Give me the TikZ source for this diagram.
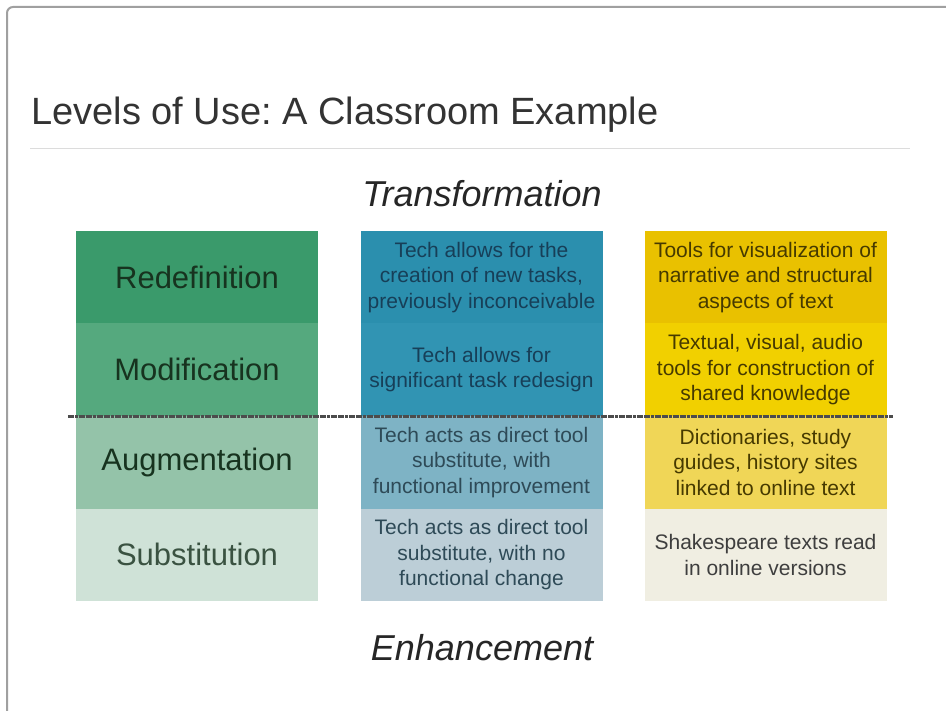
\documentclass[tikz,border=0pt]{standalone}
\usepackage{fontspec}
\setmainfont{Liberation Sans}
\frenchspacing
\begin{document}
\begin{tikzpicture}[x=1pt,y=-1pt,
  cell/.style={inner sep=0pt, minimum width=242pt, minimum height=92.5pt, align=center},
  label/.style={cell, font=\fontsize{31}{34}\selectfont},
  body/.style={cell, font=\fontsize{21}{25.5}\selectfont},
  heading/.style={inner sep=0pt, font=\fontsize{36}{40}\selectfont\itshape, text=black!85},
  dotline/.style={line width=2.8pt, dash pattern=on 3pt off 0.6pt, black!70}]
% page frame
\definecolor{frame}{HTML}{A0A0A0}
\definecolor{rule}{HTML}{DCDCDC}
% column colours, top row to bottom row
\definecolor{gA}{HTML}{3A9A6B}\definecolor{gB}{HTML}{55A97E}
\definecolor{gC}{HTML}{94C3A9}\definecolor{gD}{HTML}{CFE2D7}
\definecolor{bA}{HTML}{2B8FAE}\definecolor{bB}{HTML}{3194B3}
\definecolor{bC}{HTML}{7EB3C5}\definecolor{bD}{HTML}{BCCED7}
\definecolor{yA}{HTML}{E9C100}\definecolor{yB}{HTML}{F1D000}
\definecolor{yC}{HTML}{F0D657}\definecolor{yD}{HTML}{F0EEE2}
\definecolor{gtext}{HTML}{17331F}
\definecolor{btext}{HTML}{173F58}
\definecolor{btextlow}{HTML}{2E4A57}
\definecolor{ytext}{HTML}{463A00}
\definecolor{stext}{HTML}{3E3E3E}

\useasboundingbox (0,0) rectangle (946,711);
\fill[white] (0,0) rectangle (946,711);
\begin{scope}
\clip (0,0) rectangle (946,711);
\draw[frame, line width=2pt, rounded corners=6pt] (7,730) -- (7,7) -- (960,7);
\end{scope}

% title and rule
\node[anchor=base west, inner sep=0pt, font=\fontsize{38}{40}\selectfont, text=black!80]
  (title) at (31,125) {Levels of Use: A Classroom Example};
\coordinate (ruleL) at (30,149);
\coordinate (ruleR) at (910,149);
\draw[rule, line width=1pt] (ruleL) -- (ruleR);

\node[heading] (top) at (482,194) {Transformation};

% SAMR levels
\node[label, fill=gA, text=gtext] (g1) at (197,277.25) {Redefinition};
\node[label, fill=gB, text=gtext] (g2) at (197,369.75) {Modification};
\node[label, fill=gC, text=gtext] (g3) at (197,462.25) {Augmentation};
\node[label, fill=gD, text=gtext!85!white] (g4) at (197,554.75) {Substitution};

% what the technology does
\node[body, fill=bA, text=btext] (b1) at (481.5,277.25)
  {Tech allows for the\\creation of new tasks,\\previously inconceivable};
\node[body, fill=bB, text=btext] (b2) at (481.5,369.75)
  {Tech allows for\\significant task redesign};
\node[body, fill=bC, text=btextlow] (b3) at (481.5,462.25)
  {Tech acts as direct tool\\substitute, with\\functional improvement};
\node[body, fill=bD, text=btextlow] (b4) at (481.5,554.75)
  {Tech acts as direct tool\\substitute, with no\\functional change};

% classroom example
\node[body, fill=yA, text=ytext] (y1) at (765.5,277.25)
  {Tools for visualization of\\narrative and structural\\aspects of text};
\node[body, fill=yB, text=ytext] (y2) at (765.5,369.75)
  {Textual, visual, audio\\tools for construction of\\shared knowledge};
\node[body, fill=yC, text=ytext] (y3) at (765.5,462.25)
  {Dictionaries, study\\guides, history sites\\linked to online text};
\node[body, fill=yD, text=stext] (y4) at (765.5,554.75)
  {Shakespeare texts read\\in online versions};

% boundary between transformation and enhancement
\coordinate (splitL) at ([xshift=-8pt]g2.south west);
\coordinate (splitR) at ([xshift=6pt]y2.south east);
\draw[dotline] (splitL) -- (splitR);

\node[heading] (bottom) at (482,648) {Enhancement};
\end{tikzpicture}
\end{document}
